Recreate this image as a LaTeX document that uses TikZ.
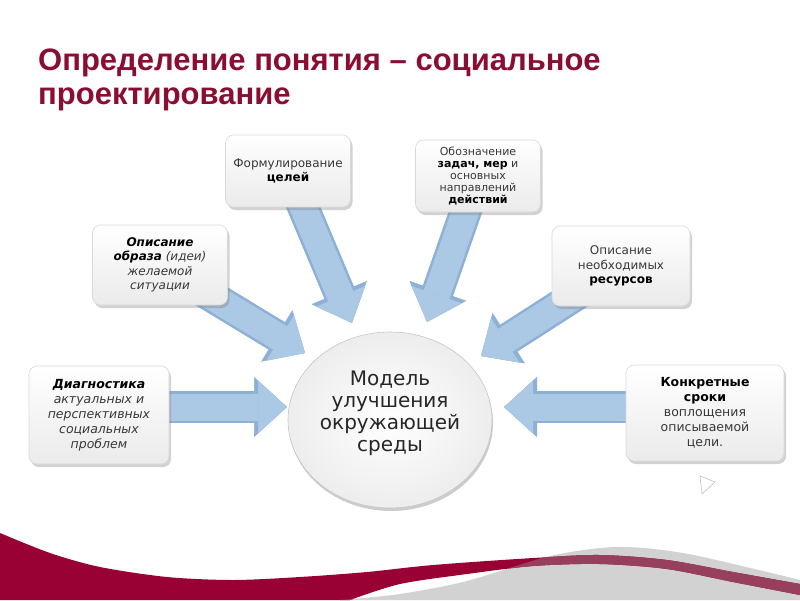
\documentclass[tikz,border=0pt]{standalone}
\usepackage{fontspec}
\setmainfont{DejaVu Sans}
\newfontfamily\titlefont{Liberation Sans}
\usetikzlibrary{arrows.meta,shapes.geometric,shadows}
\definecolor{titlered}{HTML}{8B0D32}
\definecolor{wavered}{HTML}{990033}
\definecolor{bandred}{HTML}{96405E}
\definecolor{wavegray}{HTML}{D2D2D2}
\definecolor{arrowfill}{HTML}{ABC8E4}
\definecolor{arrowedge}{HTML}{8CB0D6}
\definecolor{boxtext}{HTML}{383838}
\pgfdeclarelayer{background}
\pgfsetlayers{background,main}
\tikzset{
  infobox/.style={rectangle, rounded corners=8pt, align=center,
    top color=white, bottom color=black!8, draw=black!15, line width=0.6pt,
    drop shadow={shadow xshift=2pt, shadow yshift=-3pt, opacity=0.35},
    text=boxtext, font=\fontsize{12}{14.5}\selectfont, inner sep=3pt},
  arrowback/.style={draw=arrowedge, line width=32pt,
    -{Triangle[width=60pt,length=33pt,line width=0.5pt]}},
  arrowfront/.style={draw=arrowfill, line width=27pt,
    -{Triangle[width=53pt,length=29pt,line width=0.5pt]}},
  titletext/.style={anchor=base west, inner sep=0pt, text=titlered,
    font=\titlefont\bfseries\fontsize{31}{35}\selectfont},
}
\begin{document}
\begin{tikzpicture}[x=1pt,y=-1pt]
\useasboundingbox (0,0) rectangle (800,600);

% bottom wave (background layer)
\def\graypath{plot[smooth] coordinates {(340,600) (400,594) (467,581) (550,556) (617,547) (683,553) (767,572) (800,580)} -- (800,600) -- cycle}
\def\redpath{plot[smooth] coordinates {(0,533) (50,553) (100,567) (167,577) (233,580) (300,577) (367,572) (433,565) (533,558) (600,555) (667,560) (733,572) (800,584)} -- (800,595) -- plot[smooth] coordinates {(800,595) (733,582) (667,569) (600,564) (533,566) (467,574) (400,584) (350,600)} -- (0,600) -- cycle}
\begin{pgfonlayer}{background}
  \fill[white] (0,0) rectangle (800,600);
  \fill[wavegray] \graypath;
  \fill[wavered] \redpath;
  \begin{scope}
    \clip \graypath;
    \fill[bandred] \redpath;
  \end{scope}
\end{pgfonlayer}

% title
\node[titletext] (title1) at (38,70) {Определение понятия – социальное};
\node[titletext] (title2) at (38,104) {проектирование};

% boxes
\node[infobox, minimum width=125pt, minimum height=72pt] (bform) at (288,171)
  {Формулирование\\\textbf{\color{black}целей}};
\node[infobox, minimum width=125pt, minimum height=72pt, font=\fontsize{11}{12.2}\selectfont] (boboz) at (478,176)
  {Обозначение\\\textbf{\color{black}задач, мер} и\\основных\\направлений\\\textbf{\color{black}действий}};
\node[infobox, minimum width=135pt, minimum height=80pt] (bobraz) at (160,265)
  {\textbf{\textit{\color{black}Описание}}\\\textbf{\textit{\color{black}образа}} \textit{(идеи)}\\\textit{желаемой}\\\textit{ситуации}};
\node[infobox, minimum width=138pt, minimum height=80pt] (bres) at (621,266)
  {Описание\\необходимых\\\textbf{\color{black}ресурсов}};
\node[infobox, minimum width=140pt, minimum height=98pt, font=\fontsize{12.5}{15}\selectfont] (bdiag) at (99,415)
  {\textbf{\textit{\color{black}Диагностика}}\\\textit{актуальных и}\\\textit{перспективных}\\\textit{социальных}\\\textit{проблем}};
\node[infobox, minimum width=158pt, minimum height=96pt, font=\fontsize{12.5}{15}\selectfont] (bkonk) at (705,413)
  {\textbf{\color{black}Конкретные}\\\textbf{\color{black}сроки}\\воплощения\\описываемой\\цели.};

% small callout triangle
\draw[black!25, fill=white, line width=0.6pt] (700,476) -- (702,494) -- (715,482) -- cycle;

% central ellipse
\node[ellipse, minimum width=204pt, minimum height=176pt, inner color=white,
  outer color=black!7, draw=black!22, line width=0.6pt,
  drop shadow={shadow xshift=1pt, shadow yshift=-3pt, opacity=0.4}] (model) at (390,420) {};
\node[align=center, font=\fontsize{20}{22}\selectfont, text=black!85] (modeltext) at (390,413)
  {Модель\\улучшения\\окружающей\\среды};

% arrow tips
\coordinate (tform) at (352,323);
\coordinate (toboz) at (427,322);
\coordinate (tobraz) at (305,353);
\coordinate (tres) at (481,356);
\coordinate (tdiag) at (287,407);
\coordinate (tkonk) at (504,407);

\begin{pgfonlayer}{background}
  \foreach \s/\t in {bform/tform, boboz/toboz, bobraz/tobraz, bres/tres}{
    \draw[arrowback] (\s.center) -- (\t);
    \draw[arrowfront] (\s.center) -- (\t);
  }
  \foreach \s/\t in {bdiag/tdiag, bkonk/tkonk}{
    \draw[arrowback] (\s.center |- \t) -- (\t);
    \draw[arrowfront] (\s.center |- \t) -- (\t);
  }
\end{pgfonlayer}
\end{tikzpicture}
\end{document}
